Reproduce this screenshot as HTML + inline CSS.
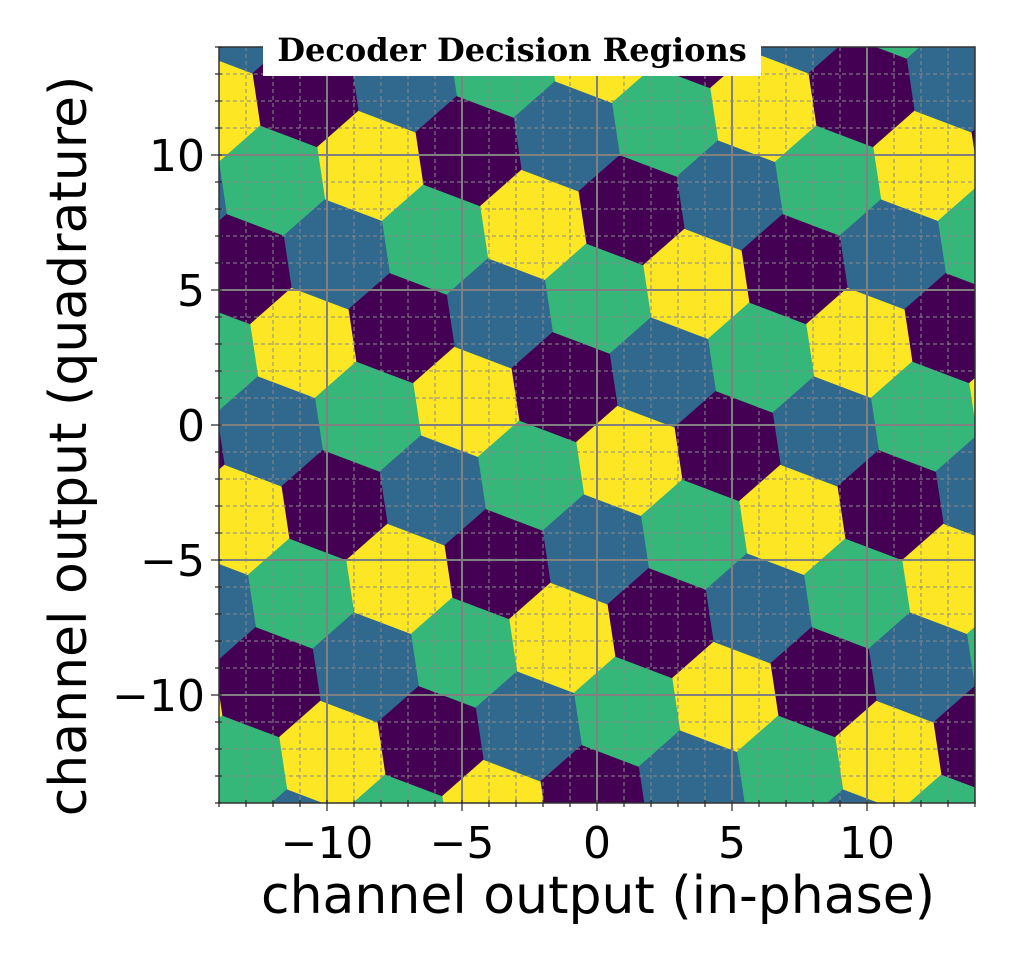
<!DOCTYPE html>
<html><head><meta charset="utf-8"><style>
html,body{margin:0;padding:0;background:#fff;}
svg{display:block;}
text{font-family:"DejaVu Sans","Liberation Sans",sans-serif;fill:#000;}
</style></head><body>
<svg id="s" width="1024" height="972" viewBox="0 0 1024 972" xmlns="http://www.w3.org/2000/svg">
<defs><clipPath id="cp"><rect x="219" y="47" width="756" height="756"/></clipPath></defs>
<g id="cells" clip-path="url(#cp)"></g>
<g id="grid" clip-path="url(#cp)"></g>
<rect x="219" y="47" width="756" height="756" fill="none" stroke="#333" stroke-width="1.5"/>
<g id="ticks"></g>
<rect x="263" y="38" width="498" height="38" fill="#fff"/>
<text x="512" y="61" text-anchor="middle" style="font-family:'DejaVu Serif','Liberation Serif',serif;font-weight:bold;font-size:32px">Decoder Decision Regions</text>
<g font-size="44" text-anchor="middle">
<text x="327" y="858">−10</text><text x="462" y="858">−5</text><text x="597" y="858">0</text><text x="732" y="858">5</text><text x="867" y="858">10</text>
</g>
<g font-size="44" text-anchor="end">
<text x="205" y="171">10</text><text x="205" y="306">5</text><text x="205" y="441">0</text><text x="205" y="576">−5</text><text x="205" y="711">−10</text>
</g>
<text x="598" y="913" text-anchor="middle" font-size="52">channel output (in-phase)</text>
<text transform="translate(86,446) rotate(-90)" text-anchor="middle" font-size="52">channel output (quadrature)</text>
</svg>
<script>
var NS="http://www.w3.org/2000/svg";
var a=[98.25,-14.75],b=[33.5,-88.5],O=[565,387];
var cols=["#440154","#31688e","#35b779","#fde725"];
function sub(p,q){return[p[0]-q[0],p[1]-q[1]];}
function neg(p){return[-p[0],-p[1]];}
var nb=[a,b,sub(b,a),neg(a),neg(b),sub(a,b)];
function cc(p,q){var r1=(p[0]*p[0]+p[1]*p[1])/2,r2=(q[0]*q[0]+q[1]*q[1])/2;var d=p[0]*q[1]-p[1]*q[0];return[(r1*q[1]-r2*p[1])/d,(p[0]*r2-q[0]*r1)/d];}
var verts=[];for(var k=0;k<6;k++)verts.push(cc(nb[k],nb[(k+1)%6]));
var g=document.getElementById("cells");
for(var i=-12;i<=12;i++)for(var j=-12;j<=12;j++){
 var cx=O[0]+i*a[0]+j*b[0],cy=O[1]+i*a[1]+j*b[1];
 if(cx<100||cx>1100||cy<-70||cy>920)continue;
 var c=((i+2*j)%4+4)%4;
 var pts=verts.map(function(v){return (cx+v[0]).toFixed(2)+","+(cy+v[1]).toFixed(2);}).join(" ");
 var p=document.createElementNS(NS,"polygon");p.setAttribute("points",pts);p.setAttribute("fill",cols[c]);p.setAttribute("stroke",cols[c]);p.setAttribute("stroke-width","0.8");g.appendChild(p);
}
var gr=document.getElementById("grid"),tk=document.getElementById("ticks");
function ln(par,x1,y1,x2,y2,st,w,da){var l=document.createElementNS(NS,"line");l.setAttribute("x1",x1);l.setAttribute("y1",y1);l.setAttribute("x2",x2);l.setAttribute("y2",y2);l.setAttribute("stroke",st);l.setAttribute("stroke-width",w);if(da)l.setAttribute("stroke-dasharray",da);par.appendChild(l);}
for(var u=-14;u<=14;u++){
 var x=597+27*u,y=425-27*u,maj=(u%5==0);
 if(maj){ln(gr,x,47,x,803,"#808080",2);ln(gr,219,y,975,y,"#808080",2);}
 else{ln(gr,x,47,x,803,"#8a8a8a",1,"4,3");ln(gr,219,y,975,y,"#8a8a8a",1,"4,3");}
 var L=maj?8:4;
 ln(tk,x,803,x,803+L,"#222",1.2);ln(tk,219-L,y,219,y,"#222",1.2);
 ln(tk,219,y,219+3,y,"#222",1);ln(tk,x,803,x,800,"#222",1);
}
</script>
</body></html>
